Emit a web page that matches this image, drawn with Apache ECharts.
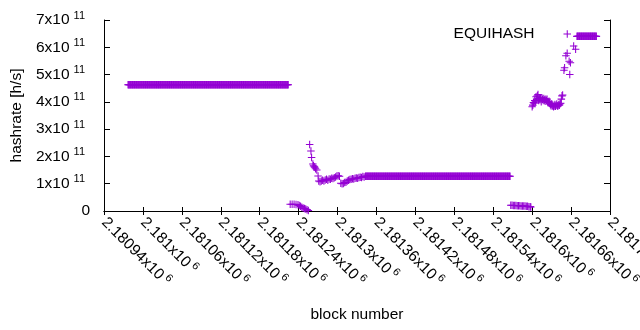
<!DOCTYPE html>
<html>
<head>
<meta charset="utf-8">
<script src="https://cdn.jsdelivr.net/npm/echarts@6/dist/echarts.min.js"></script>
<style>
html,body{margin:0;padding:0;background:#fff;}
#chart{width:640px;height:330px;}
</style>
</head>
<body>
<div id="chart"></div>
<script>
// ---- data ----
const seriesName = 'EQUIHASH';
const xTickMin = 2180940, xTickMax = 2181720, xTickStep = 60;
const yTickMin = 0, yTickMax = 7e11, yTickStep = 1e11;

// constant runs of hashrate (one point per block)
const runStart = [2180977, 2181343, 2181669];
const runEnd   = [2181224, 2181566, 2181699];
const runValue = [4.63e11, 1.27e11, 6.40e11];

// individually read points (block, hashrate in 1e11 h/s)
const ptBlock = [
  2181227,2181230,2181233,2181236,2181239,2181241,2181243,2181245,2181247,2181249,2181251,2181253,2181255,
  2181257,2181259,2181260,2181262,2181263,2181264,2181265,2181266,2181268,2181270,
  2181271,2181273,2181275,2181277,2181279,2181281,2181283,2181285,2181287,2181289,2181291,2181293,2181295,2181297,2181299,2181301,2181303,
  2181305,2181307,2181309,2181311,2181313,2181315,2181317,2181319,2181321,2181323,2181325,2181327,2181329,2181331,2181333,2181335,2181337,2181339,2181341,
  2181567,2181569,2181571,2181573,2181575,2181577,2181579,2181581,2181583,2181585,2181587,2181589,2181591,2181593,2181595,2181597,2181598,
  2181600,2181601,2181602,2181603,2181604,2181605,2181606,2181607,2181608,2181609,2181610,2181611,2181612,2181613,2181614,2181615,2181616,2181617,2181618,2181619,
  2181620,2181621,2181622,2181623,2181624,2181625,2181626,2181627,2181628,2181629,2181630,2181631,2181632,2181633,2181634,2181635,2181636,2181637,2181638,2181639,
  2181640,2181641,2181642,2181643,2181644,2181645,2181646,2181647,
  2181649,2181650,2181652,2181654,2181657,2181658,2181659,2181664,2181667
];
const ptValue = [
  0.25,0.25,0.245,0.24,0.225,0.20,0.17,0.14,0.11,0.09,0.07,0.05,0.02,
  2.44,2.20,1.96,1.72,1.66,1.62,1.60,1.55,1.50,1.28,
  1.10,1.07,1.10,1.13,1.10,1.14,1.16,1.13,1.17,1.16,1.20,1.19,1.22,1.25,1.28,1.29,1.27,
  1.02,1.00,1.01,1.04,1.05,1.10,1.13,1.15,1.16,1.18,1.17,1.20,1.21,1.20,1.23,1.24,1.23,1.26,1.25,
  0.21,0.21,0.20,0.20,0.20,0.19,0.19,0.19,0.18,0.18,0.18,0.18,0.17,0.17,0.16,0.16,0.15,
  3.82,3.88,3.98,3.95,4.05,4.00,4.19,4.10,4.22,4.27,4.05,4.12,4.08,4.15,4.00,4.15,4.10,4.05,4.12,4.07,
  4.02,4.10,4.05,4.10,4.00,3.98,4.02,3.95,3.90,3.86,3.92,3.85,3.88,3.82,3.85,3.90,3.84,3.88,3.92,3.85,
  3.86,3.90,3.88,3.93,3.95,4.10,4.22,4.25,
  5.16,5.25,5.69,5.78,5.49,5.00,5.43,6.05,5.93
];

// ---- build the series data ----
const points = [];
for (let r = 0; r < runStart.length; r++) {
  for (let b = runStart[r]; b <= runEnd[r]; b++) points.push([b, runValue[r]]);
}
for (let i = 0; i < ptBlock.length; i++) points.push([ptBlock[i], ptValue[i] * 1e11]);
points.sort((a, b) => a[0] - b[0]);

const FONT = '"Liberation Sans", Arial, sans-serif';
const PLUS = 'path://M4.3,0H5.7V4.3H10V5.7H5.7V10H4.3V5.7H0V4.3H4.3Z';
const COLOR = '#9400d3';

const rich = {
  m: { fontSize: 15.5, lineHeight: 20, color: '#000', fontFamily: FONT },
  s: { fontSize: 11, lineHeight: 11, verticalAlign: 'top', color: '#000', fontFamily: FONT, padding: [0, 0, 0, 3] },
  sy: { fontSize: 11, lineHeight: 11, verticalAlign: 'top', color: '#000', fontFamily: FONT, padding: [0, 5, 0, 4] }
};

function fmtX(v) {
  const m = +(v / 1e6).toFixed(5);
  return '{m|' + m + 'x10}{s|6}';
}
function fmtY(v) {
  if (v === 0) return '{m|0}';
  return '{m|' + Math.round(v / 1e11) + 'x10}{sy|11}';
}

const chart = echarts.init(document.getElementById('chart'), null, { renderer: 'canvas' });
const axisLine = { show: true, lineStyle: { color: '#000', width: 1 } };

chart.setOption({
  animation: false,
  backgroundColor: '#fff',
  textStyle: { fontFamily: FONT },
  grid: { left: 104, right: 30, top: 20, bottom: 119, containLabel: false, outerBoundsMode: 'none' },
  legend: {
    data: [{ name: seriesName, icon: PLUS }],
    right: 69, top: 26, padding: 0,
    align: 'right',
    itemWidth: 7.5, itemHeight: 7.5,
    textStyle: { fontSize: 15.5, color: '#000', fontFamily: FONT, padding: [0, 24, 0, 0] },
    itemStyle: { color: COLOR },
    selectedMode: false
  },
  xAxis: [
    {
      type: 'value', min: xTickMin, max: xTickMax, interval: xTickStep,
      position: 'bottom',
      name: 'block number', nameLocation: 'middle', nameGap: 96,
      nameTextStyle: { fontSize: 15.5, color: '#000', fontFamily: FONT },
      axisLine: axisLine,
      axisTick: { show: true, inside: true, length: 4, lineStyle: { color: '#000' } },
      axisLabel: { show: true, rotate: -45, margin: 9, formatter: fmtX, rich: rich, showMinLabel: true, showMaxLabel: true },
      splitLine: { show: false }
    },
    {
      type: 'value', min: xTickMin, max: xTickMax, interval: xTickStep,
      position: 'top',
      axisLine: axisLine,
      axisTick: { show: true, inside: true, length: 4, lineStyle: { color: '#000' } },
      axisLabel: { show: false },
      splitLine: { show: false }
    }
  ],
  yAxis: [
    {
      type: 'value', min: yTickMin, max: yTickMax, interval: yTickStep,
      position: 'left',
      name: 'hashrate [h/s]', nameLocation: 'middle', nameGap: 78, nameRotate: 90,
      nameTextStyle: { fontSize: 15.5, color: '#000', fontFamily: FONT },
      axisLine: axisLine,
      axisTick: { show: true, inside: true, length: 6, lineStyle: { color: '#000' } },
      axisLabel: { show: true, margin: 14, formatter: fmtY, rich: rich },
      splitLine: { show: false }
    },
    {
      type: 'value', min: yTickMin, max: yTickMax, interval: yTickStep,
      position: 'right',
      axisLine: axisLine,
      axisTick: { show: true, inside: true, length: 6, lineStyle: { color: '#000' } },
      axisLabel: { show: false },
      splitLine: { show: false }
    }
  ],
  series: [{
    name: seriesName,
    type: 'scatter',
    xAxisIndex: 0, yAxisIndex: 0,
    symbol: PLUS,
    symbolSize: 7.5,
    itemStyle: { color: COLOR, opacity: 1 },
    data: points,
    silent: true
  }]
});
</script>
</body>
</html>
